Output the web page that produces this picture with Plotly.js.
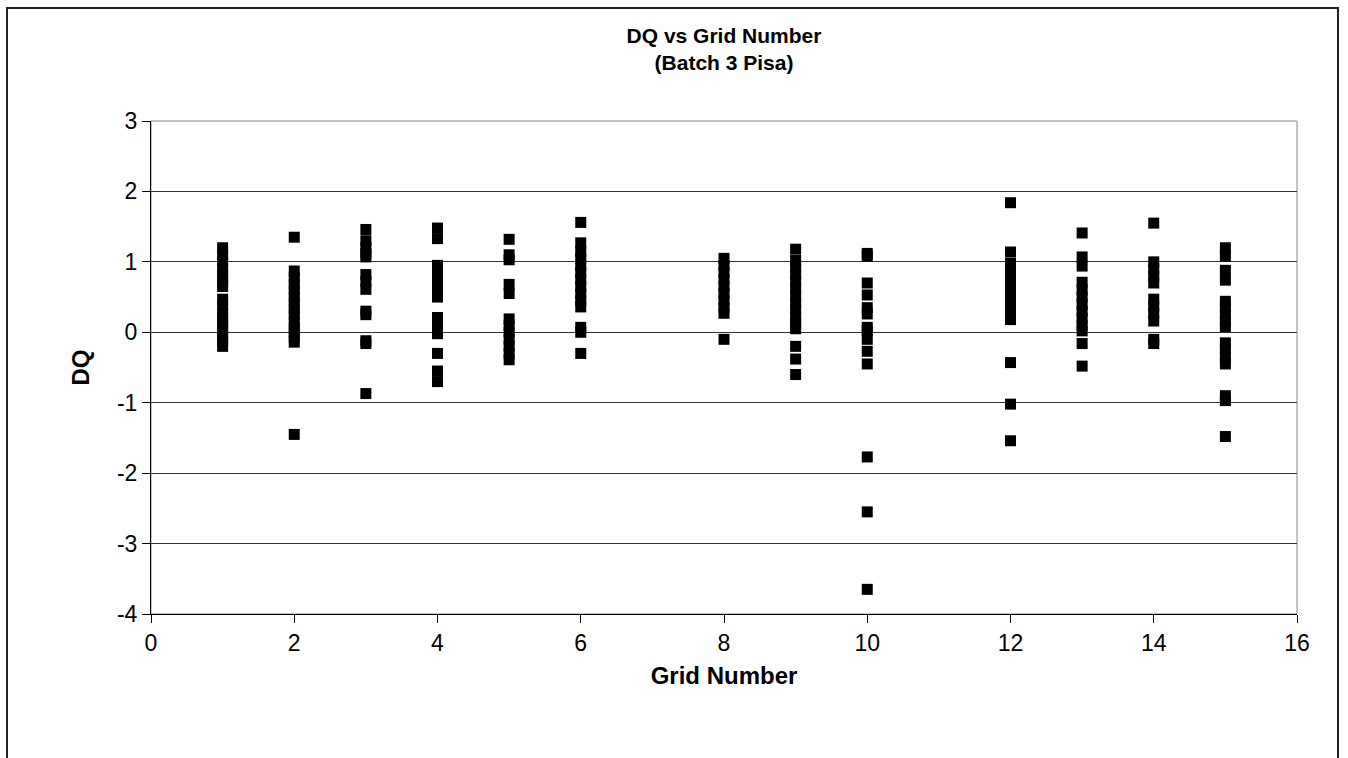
<!DOCTYPE html>
<html>
<head>
<meta charset="utf-8">
<script src="https://cdn.plot.ly/plotly-3.0.1.min.js"></script>
<style>
  html, body { margin: 0; padding: 0; background: #fff; }
  #chart { width: 1348px; height: 758px; }
</style>
</head>
<body>
<div id="chart"></div>
<script>
// DQ values per grid number
const grid1  = [1.2, 1.1, 1.0, 0.9, 0.8, 0.72, 0.65, 0.47, 0.38, 0.28, 0.2, 0.12, 0.05, -0.05, -0.12, -0.2];
const grid2  = [1.35, 0.87, 0.78, 0.68, 0.6, 0.5, 0.42, 0.33, 0.25, 0.15, 0.07, 0.0, -0.07, -0.14, -1.45];
const grid3  = [1.46, 1.3, 1.2, 1.12, 1.07, 0.82, 0.72, 0.61, 0.3, 0.25, -0.12, -0.16, -0.87];
const grid4  = [1.48, 1.33, 0.95, 0.85, 0.75, 0.62, 0.5, 0.21, 0.12, 0.05, -0.02, -0.3, -0.55, -0.7];
const grid5  = [1.32, 1.1, 1.03, 0.68, 0.55, 0.19, 0.1, 0.0, -0.1, -0.2, -0.3, -0.39];
const grid6  = [1.56, 1.27, 1.15, 1.05, 0.95, 0.85, 0.75, 0.65, 0.55, 0.45, 0.36, 0.07, 0.0, -0.3];
const grid8  = [1.05, 0.95, 0.85, 0.75, 0.65, 0.55, 0.45, 0.35, 0.27, -0.1];
const grid9  = [1.18, 1.02, 0.92, 0.82, 0.72, 0.62, 0.52, 0.42, 0.32, 0.22, 0.12, 0.05, -0.2, -0.38, -0.6];
const grid10 = [1.12, 1.08, 0.7, 0.53, 0.35, 0.26, 0.07, 0.02, -0.1, -0.27, -0.45, -1.77, -2.55, -3.65];
const grid12 = [1.84, 1.14, 0.98, 0.88, 0.78, 0.68, 0.58, 0.48, 0.38, 0.28, 0.18, -0.43, -1.02, -1.54];
const grid13 = [1.41, 1.07, 0.94, 0.71, 0.6, 0.5, 0.4, 0.3, 0.2, 0.1, 0.02, -0.16, -0.48];
const grid14 = [1.55, 1.0, 0.9, 0.8, 0.7, 0.47, 0.37, 0.27, 0.16, -0.1, -0.16];
const grid15 = [1.2, 1.08, 0.88, 0.74, 0.44, 0.35, 0.25, 0.15, 0.08, -0.15, -0.25, -0.35, -0.45, -0.9, -0.97, -1.48];

const gridNumbers = [1, 2, 3, 4, 5, 6, 8, 9, 10, 12, 13, 14, 15];
const gridValues  = [grid1, grid2, grid3, grid4, grid5, grid6, grid8, grid9, grid10, grid12, grid13, grid14, grid15];

// Axis tick labels (plain hyphen minus as in the reference)
const yTickVals = [-4, -3, -2, -1, 0, 1, 2, 3];
const yTickText = ['-4', '-3', '-2', '-1', '0', '1', '2', '3'];
const xTickVals = [0, 2, 4, 6, 8, 10, 12, 14, 16];
const xTickText = ['0', '2', '4', '6', '8', '10', '12', '14', '16'];

const xs = [], ys = [];
gridNumbers.forEach((g, i) => {
  gridValues[i].forEach(v => { xs.push(g); ys.push(v); });
});

const FONT = 'Liberation Sans, Arial, sans-serif';

const trace = {
  type: 'scatter',
  mode: 'markers',
  x: xs,
  y: ys,
  marker: { symbol: 'square', size: 11, color: '#000', line: { width: 0 } },
  hoverinfo: 'x+y',
  showlegend: false
};

const layout = {
  width: 1348,
  height: 758,
  margin: { l: 151, r: 51, t: 121, b: 144, pad: 0 },
  paper_bgcolor: '#fff',
  plot_bgcolor: '#fff',
  font: { family: FONT, color: '#000', size: 22 },
  title: {
    text: '<b>DQ vs Grid Number<br>(Batch 3 Pisa)</b>',
    font: { family: FONT, size: 21, color: '#000' },
    x: 0.5 + (151 - 51) / 2 / 1348,
    xanchor: 'center',
    y: 1 - 43 / 758,
    yanchor: 'top',
    yref: 'container'
  },
  xaxis: {
    range: [0, 16],
    tickmode: 'array',
    tickvals: xTickVals,
    ticktext: xTickText,
    ticks: 'outside',
    ticklen: 8,
    tickwidth: 1,
    tickcolor: '#000',
    showline: true,
    linecolor: '#000',
    linewidth: 1,
    showgrid: false,
    zeroline: false,
    tickfont: { family: FONT, size: 23, color: '#000' },
    title: { text: '<b>Grid Number</b>', font: { family: FONT, size: 24, color: '#000' }, standoff: 12 },
    fixedrange: true
  },
  yaxis: {
    range: [-4, 3],
    tickmode: 'array',
    tickvals: yTickVals,
    ticktext: yTickText,
    ticks: 'outside',
    ticklen: 8,
    tickwidth: 1,
    tickcolor: '#000',
    showline: true,
    linecolor: '#000',
    linewidth: 1,
    showgrid: true,
    gridcolor: '#333',
    gridwidth: 1,
    zeroline: false,
    tickfont: { family: FONT, size: 23, color: '#000' },
    title: { text: '<b>DQ</b>', font: { family: FONT, size: 24, color: '#000' }, standoff: 20 },
    fixedrange: true
  },
  shapes: [
    { type: 'rect', xref: 'paper', yref: 'paper', x0: 0, x1: 1, y0: 0, y1: 1,
      line: { color: '#888', width: 1 }, layer: 'below' },
    { type: 'rect', xref: 'paper', yref: 'paper',
      x0: (7 - 151) / 1146, x1: (1338 - 151) / 1146,
      y0: (614 - 820) / 493, y1: (614 - 8) / 493,
      line: { color: '#222', width: 2 }, layer: 'above' }
  ]
};

Plotly.newPlot('chart', [trace], layout, { displayModeBar: false, staticPlot: true });
</script>
</body>
</html>
